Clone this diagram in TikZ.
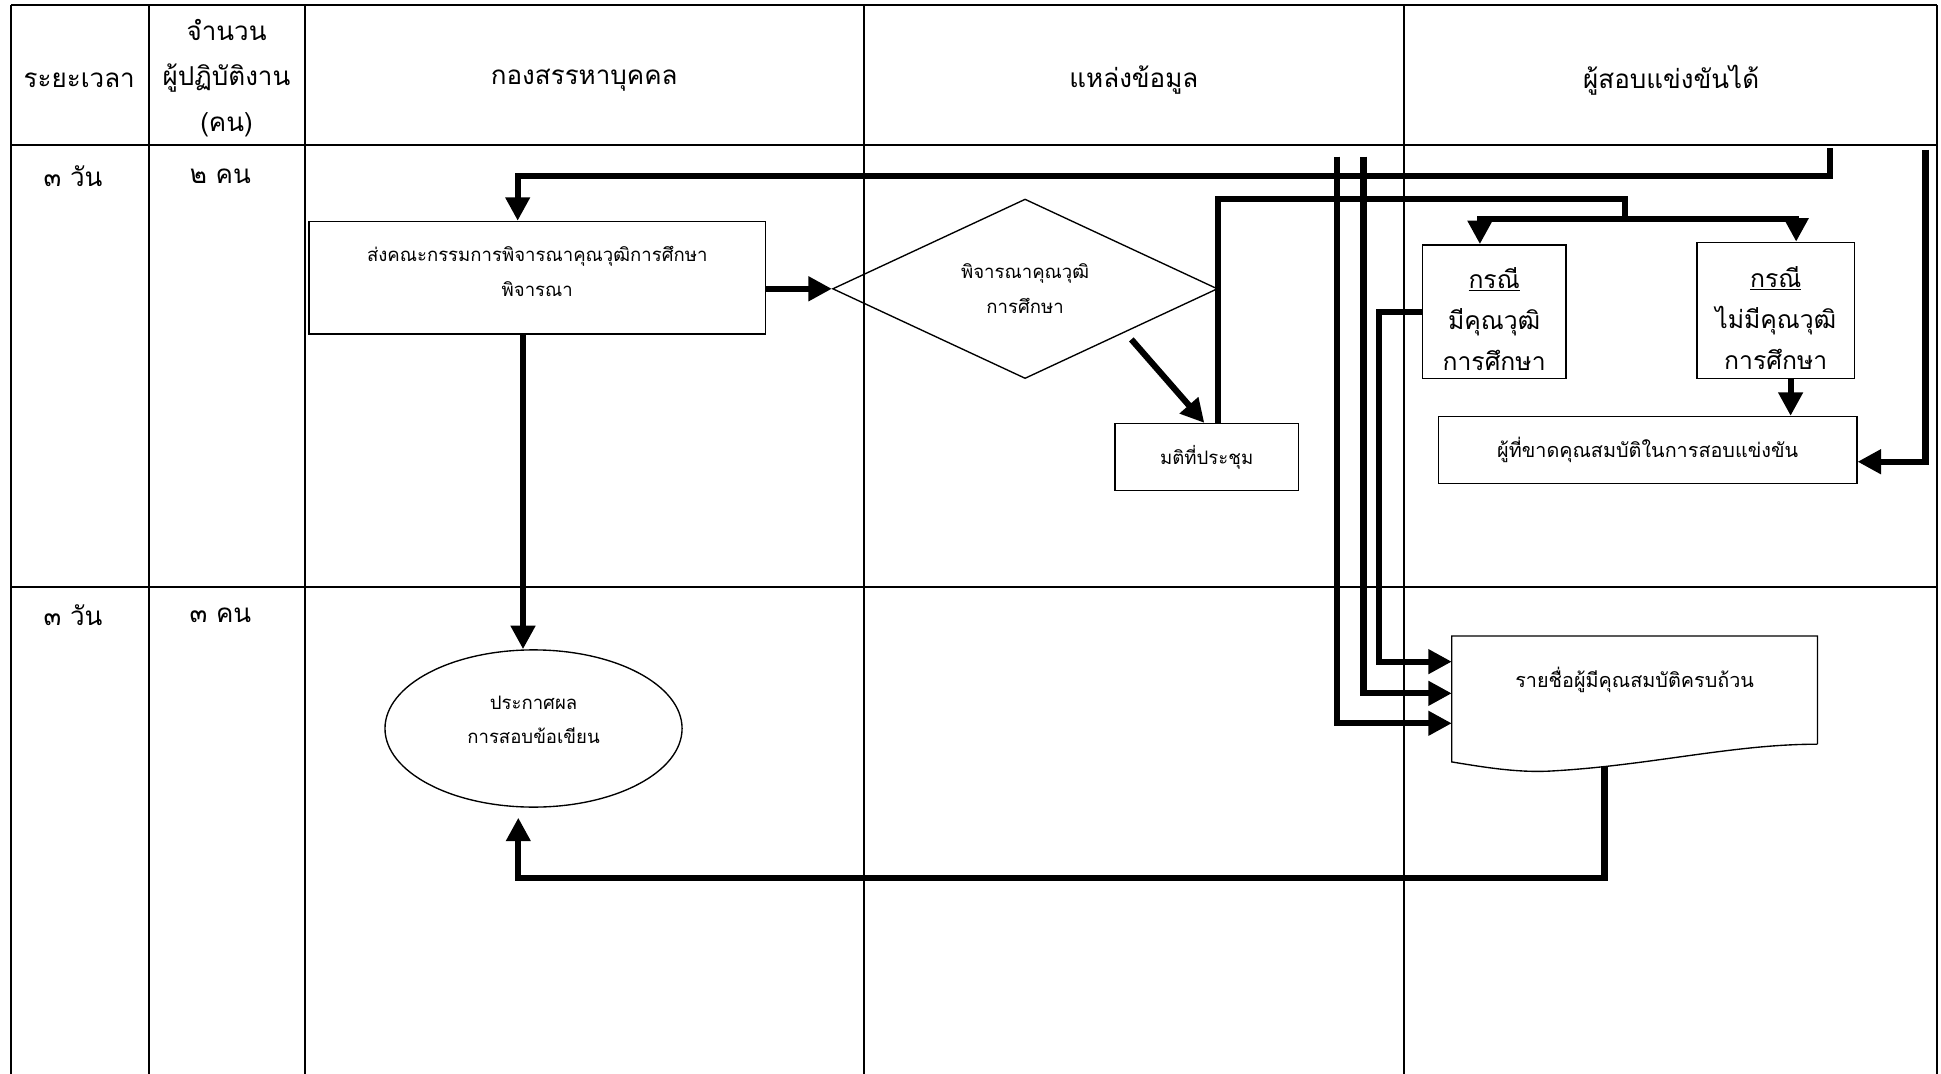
\documentclass[tikz,border=0pt]{standalone}
\usepackage{fontspec}
\setmainfont[Script=Thai]{Loma}
\usetikzlibrary{arrows.meta,shapes.geometric,calc}

\begin{document}
\begin{tikzpicture}[x=1pt,y=-1pt,
  grid/.style={line width=1.6pt},
  flow/.style={line width=5pt,-{Triangle[length=19pt,width=19pt]}},
  plain/.style={line width=5pt},
  box/.style={draw,line width=1.1pt,rectangle,inner sep=0pt},
  txt/.style={inner sep=0pt,align=center},
  hdr/.style={font=\fontsize{21}{37}\selectfont,align=center,inner sep=0pt},
  case/.style={font=\fontsize{20}{33}\selectfont},
  small/.style={font=\fontsize{15}{28}\selectfont},
  mid/.style={font=\fontsize{16}{28}\selectfont},
]
\useasboundingbox (0,0) rectangle (1568,867.6);

% table grid
\draw[grid] (9,4) -- (1565,4);
\draw[grid] (9,117) -- (1565,117);
\draw[grid] (9,474) -- (1565,474);
\foreach \x in {9,120,246,698,1134,1565} \draw[grid] (\x,4) -- (\x,870);

% column headings
\node[hdr] (hTime) at (64,65) {ระยะเวลา};
\node[hdr] (hStaff) at (183,63) {จำนวน\\ผู้ปฏิบัติงาน\\(คน)};
\node[hdr] (hDept) at (472,65) {กองสรรหาบุคคล};
\node[hdr] (hSrc) at (916,65) {แหล่งข้อมูล};
\node[hdr] (hPass) at (1350,65) {ผู้สอบแข่งขันได้};

% row labels
\node[hdr] (tA) at (59,142) {๓ วัน};
\node[hdr] (pA) at (178,142) {๒ คน};
\node[hdr] (tB) at (59,497) {๓ วัน};
\node[hdr] (pB) at (178,497) {๓ คน};

% process steps (shapes, with their wording set slightly off-centre)
\node[box,minimum width=369pt,minimum height=91pt] (send) at (434,224.4) {};
\node[txt,small] (sendT) at ([yshift=5pt]send.center)
  {ส่งคณะกรรมการพิจารณาคุณวุฒิการศึกษา\\พิจารณา};
\node[draw,line width=1.1pt,diamond,inner sep=0pt,minimum width=311pt,minimum height=145pt,
  small,align=center] (dec) at (828.1,233.3) {พิจารณาคุณวุฒิ\\การศึกษา};
\node[box,small,minimum width=148pt,minimum height=54pt] (mtg) at (974.8,369.2) {มติที่ประชุม};
\node[box,minimum width=116pt,minimum height=108pt] (qual) at (1207,251.8) {};
\node[txt,case] (qualT) at ([yshift=-6pt]qual.center)
  {\underline{กรณี}\\มีคุณวุฒิ\\การศึกษา};
\node[box,minimum width=127pt,minimum height=110pt] (noqual) at (1434.5,250.8) {};
\node[txt,case] (noqualT) at ([yshift=-6pt]noqual.center)
  {\underline{กรณี}\\ไม่มีคุณวุฒิ\\การศึกษา};
\node[box,mid,minimum width=338pt,minimum height=54pt] (fail) at (1331,363.5)
  {ผู้ที่ขาดคุณสมบัติในการสอบแข่งขัน};
\node[mid,inner sep=0pt,minimum width=295pt,minimum height=87pt,text height=12pt,text depth=17pt]
  (doc) at (1320.5,557.5) {รายชื่อผู้มีคุณสมบัติครบถ้วน};
\draw[line width=1.1pt] (doc.south east) -- (doc.north east) -- (doc.north west)
  -- (doc.west |- 0,615.5)
  .. controls (1200,620) and (1225,624) .. (1250,623)
  .. controls (1330,619) and (1400,601) .. (doc.south east);
\node[draw,line width=1.1pt,ellipse,inner sep=0pt,minimum width=240pt,minimum height=127pt]
  (ell) at (431,588.5) {};
\node[txt,small] (ellT) at ([yshift=7pt]ell.center) {ประกาศผล\\การสอบข้อเขียน};

% incoming lines from above
\coordinate (inA) at (1478.4,119.8);
\coordinate (inB) at (1555.5,121);
\coordinate (inC) at (1079.9,126.6);
\coordinate (inD) at (1101.4,126.6);
\coordinate (split) at (1312.7,177);

% connectors
\draw[flow] (inA) -- (inA |- 0,142.2) -| ([xshift=-15.8pt]send.north);
\draw[flow] (send.east |- dec.west) -- (dec.west);
\draw[flow] ($(dec.east)!0.45!(dec.south)+(0,8)$) -- ([xshift=-1.9pt]mtg.north);
\draw[plain] ([xshift=8.9pt]mtg.north) |- (split |- 0,161) -- (split);
\draw[flow] (split) -| ([xshift=-11.5pt]qual.north);
\draw[flow] (split) -| ([xshift=16.5pt]noqual.north);
\draw[flow] ([xshift=12pt]noqual.south) -- ([xshift=12pt]noqual.south |- fail.north);
\draw[flow] (inB) |- ([yshift=-9.5pt]fail.east);
\draw[flow] (qual.west) -- ++(-34.6,0) |- ([yshift=23pt]doc.west);
\draw[flow] (inD) |- ([yshift=-2.6pt]doc.west);
\draw[flow] (inC) |- ([yshift=-26.8pt]doc.west);
\draw[flow] ([xshift=-11.5pt]send.south) -- ([xshift=-8.5pt]ell.north);
\draw[flow,shorten >=8pt] ($(doc.south)+(-24.3,18.5)$) |- ($(ell.south)+(-12.3,56.5)$)
  -- ([xshift=-12.3pt]ell.south);
\end{tikzpicture}
\end{document}
